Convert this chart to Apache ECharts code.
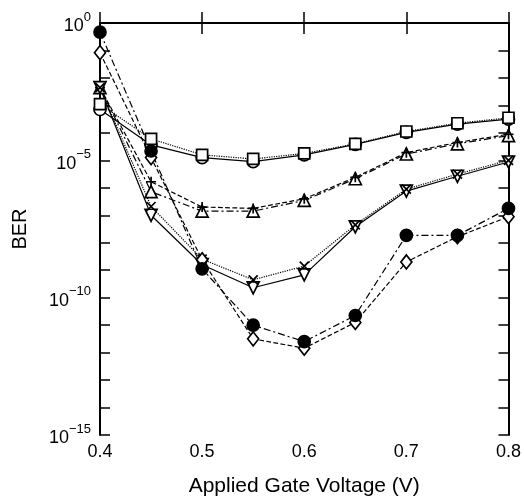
<!DOCTYPE html>
<html>
<head>
<meta charset="utf-8">
<script src="https://cdn.jsdelivr.net/npm/echarts@6/dist/echarts.min.js"></script>
<style>
  html, body { margin: 0; padding: 0; background: #fff; }
  #main { width: 524px; height: 502px; }
</style>
</head>
<body>
<div id="main"></div>
<script>
// gate voltage (V)
const voltage = [0.4, 0.45, 0.5, 0.55, 0.6, 0.65, 0.7, 0.75, 0.8];

// log10(BER), one array per curve
const squareLog   = [-2.95, -4.22, -4.80, -4.95, -4.75, -4.40, -3.95, -3.65, -3.45];
const circleLog   = [-3.15, -4.44, -4.90, -5.05, -4.80, -4.42, -3.98, -3.68, -3.50];
const plusLog     = [-2.35, -5.78, -6.70, -6.75, -6.40, -5.62, -4.72, -4.35, -4.05];
const triangleLog = [-2.35, -6.14, -6.85, -6.85, -6.46, -5.67, -4.77, -4.40, -4.10];
const crossLog    = [-2.35, -6.68, -8.60, -9.35, -8.85, -7.35, -6.05, -5.50, -5.00];
const invTriLog   = [-2.35, -7.00, -8.80, -9.64, -9.17, -7.42, -6.12, -5.58, -5.06];
const filledLog   = [-0.33, -4.66, -8.95, -11.00, -11.60, -10.65, -7.73, -7.73, -6.75];
const diamondLog  = [-1.08, -4.90, -8.62, -11.50, -11.84, -10.90, -8.70, -7.78, -7.05];

// y tick labels (decades that get a label)
const yLabelExps = [0, -5, -10, -15];
const xTickLabels = ['0.4', '0.5', '0.6', '0.7', '0.8'];

const chart = echarts.init(document.getElementById('main'));

const PLUS = 'path://M5,0L5,10M0,5L10,5';
const CROSS = 'path://M0,0L10,10M10,0L0,10';

function mk(name, vals, symbol, size, lineType, filled, rotate) {
  return {
    name: name,
    type: 'line',
    data: voltage.map((v, i) => [v, vals[i]]),
    symbol: symbol,
    symbolSize: size,
    symbolRotate: rotate || 0,
    showAllSymbol: true,
    lineStyle: { color: '#000', width: 1.2, type: lineType },
    itemStyle: {
      color: filled ? '#000' : (symbol.startsWith('path') ? 'none' : '#fff'),
      borderColor: '#000',
      borderWidth: 1.7
    },
    emphasis: { disabled: true },
    z: 3
  };
}

const dashDot = [7, 3, 2, 3];

const option = {
  animation: false,
  backgroundColor: '#fff',
  grid: { left: 100, right: 12, top: 23, bottom: 63 },
  xAxis: [
    {
      type: 'value', min: 0.4, max: 0.8, interval: 0.1,
      name: 'Applied Gate Voltage (V)', nameLocation: 'middle', nameGap: 41,
      nameTextStyle: { fontFamily: 'Liberation Sans', fontSize: 21, color: '#000' },
      axisLine: { lineStyle: { color: '#000', width: 2 } },
      axisTick: { inside: true, length: 11, lineStyle: { color: '#000', width: 1.5 } },
      axisLabel: {
        margin: 8, fontFamily: 'Liberation Sans', fontSize: 18, color: '#000',
        formatter: v => xTickLabels.find(t => Math.abs(+t - v) < 1e-6) || ''
      },
      splitLine: { show: false }
    },
    {
      type: 'value', min: 0.4, max: 0.8, interval: 0.1, position: 'top',
      axisLine: { lineStyle: { color: '#000', width: 2 } },
      axisTick: { inside: true, length: 11, lineStyle: { color: '#000', width: 1.5 } },
      axisLabel: { show: false },
      splitLine: { show: false }
    }
  ],
  yAxis: [
    {
      type: 'value', min: -15, max: 0, interval: 1,
      name: 'BER', nameLocation: 'middle', nameGap: 70, nameRotate: 90,
      nameTextStyle: { fontFamily: 'Liberation Sans', fontSize: 20, color: '#000' },
      axisLine: { lineStyle: { color: '#000', width: 2 } },
      axisTick: { inside: true, length: 10, lineStyle: { color: '#000', width: 1.5 } },
      axisLabel: {
        margin: 9, color: '#000',
        formatter: v => yLabelExps.includes(v) ? '{b|10}{s|' + (v === 0 ? '0' : '\u2212' + (-v)) + '}' : '',
        rich: {
          b: { fontFamily: 'Liberation Sans', fontSize: 18, color: '#000', padding: [7, 0, 0, 0] },
          s: { fontFamily: 'Liberation Sans', fontSize: 13, color: '#000', verticalAlign: 'top', padding: [0, 0, 8, 0] }
        }
      },
      splitLine: { show: false }
    },
    {
      type: 'value', min: -15, max: 0, interval: 1, position: 'right',
      axisLine: { lineStyle: { color: '#000', width: 2 } },
      axisTick: { inside: true, length: 10, lineStyle: { color: '#000', width: 1.5 } },
      axisLabel: { show: false },
      splitLine: { show: false }
    }
  ],
  series: [
    mk('circle', circleLog, 'circle', 12, 'solid', false),
    mk('square', squareLog, 'rect', 11, 'dotted', false),
    mk('triangle', triangleLog, 'triangle', 12, dashDot, false),
    mk('plus', plusLog, PLUS, 10, 'dashed', false),
    mk('invTriangle', invTriLog, 'triangle', 12, 'solid', false, 180),
    mk('cross', crossLog, CROSS, 9, 'dotted', false),
    mk('diamond', diamondLog, 'diamond', [11, 14], 'dashed', false),
    mk('filled', filledLog, 'circle', 12, dashDot, true)
  ]
};

chart.setOption(option);
</script>
</body>
</html>
